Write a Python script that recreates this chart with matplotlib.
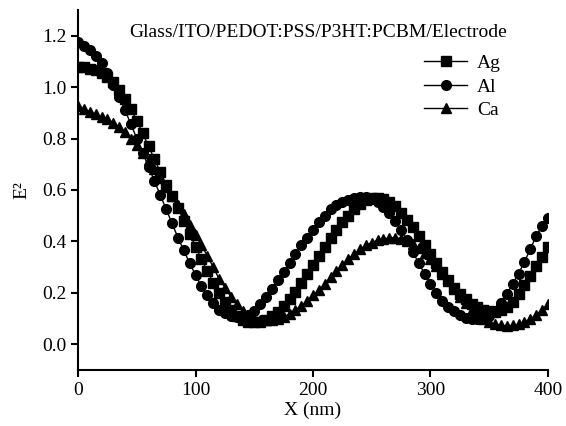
import numpy as np
import matplotlib
matplotlib.use('Agg')
import matplotlib.pyplot as plt

plt.rcParams['font.family'] = ['Liberation Serif', 'DejaVu Serif']

# x position (nm), step 5
x_nm = list(range(0, 405, 5))

# Ag electrode
e2_ag = [1.080, 1.077, 1.072, 1.065, 1.055, 1.040, 1.020, 0.990, 0.955, 0.915,
         0.870, 0.820, 0.770, 0.720, 0.670, 0.620, 0.575, 0.530, 0.480, 0.430,
         0.380, 0.330, 0.285, 0.240, 0.200, 0.165, 0.135, 0.110, 0.095, 0.087,
         0.085, 0.088, 0.095, 0.108, 0.125, 0.150, 0.175, 0.205, 0.240, 0.275,
         0.310, 0.345, 0.380, 0.415, 0.445, 0.475, 0.500, 0.525, 0.545, 0.560,
         0.567, 0.570, 0.566, 0.555, 0.537, 0.512, 0.485, 0.455, 0.420, 0.385,
         0.350, 0.315, 0.280, 0.250, 0.220, 0.195, 0.175, 0.158, 0.145, 0.135,
         0.128, 0.127, 0.132, 0.145, 0.165, 0.195, 0.230, 0.265, 0.305, 0.340,
         0.380]

# Al electrode
e2_al = [1.177, 1.160, 1.145, 1.120, 1.095, 1.055, 1.010, 0.960, 0.910, 0.855,
         0.800, 0.745, 0.690, 0.635, 0.580, 0.525, 0.470, 0.415, 0.365, 0.315,
         0.270, 0.225, 0.190, 0.160, 0.135, 0.120, 0.110, 0.105, 0.105, 0.115,
         0.130, 0.155, 0.185, 0.215, 0.250, 0.280, 0.315, 0.350, 0.385, 0.415,
         0.445, 0.475, 0.500, 0.525, 0.540, 0.553, 0.562, 0.568, 0.571, 0.571,
         0.566, 0.555, 0.535, 0.510, 0.480, 0.445, 0.405, 0.360, 0.315, 0.275,
         0.235, 0.200, 0.170, 0.145, 0.128, 0.113, 0.103, 0.097, 0.097, 0.100,
         0.110, 0.130, 0.160, 0.195, 0.235, 0.275, 0.320, 0.370, 0.420, 0.460,
         0.490]

# Ca electrode
e2_ca = [0.925, 0.915, 0.905, 0.895, 0.885, 0.875, 0.862, 0.845, 0.825, 0.800,
         0.775, 0.745, 0.715, 0.680, 0.645, 0.610, 0.575, 0.540, 0.505, 0.465,
         0.425, 0.385, 0.345, 0.300, 0.255, 0.220, 0.185, 0.155, 0.130, 0.112,
         0.100, 0.095, 0.093, 0.093, 0.097, 0.105, 0.118, 0.133, 0.150, 0.170,
         0.190, 0.210, 0.235, 0.260, 0.285, 0.310, 0.330, 0.350, 0.370, 0.385,
         0.395, 0.405, 0.410, 0.413, 0.415, 0.410, 0.400, 0.390, 0.375, 0.355,
         0.330, 0.305, 0.275, 0.245, 0.215, 0.185, 0.160, 0.135, 0.115, 0.098,
         0.087, 0.078, 0.073, 0.072, 0.073, 0.078, 0.087, 0.098, 0.113, 0.132,
         0.155]

fig = plt.figure(figsize=(5.66, 4.26), dpi=100)
ax = fig.add_axes([0.138, 0.1315, 0.83, 0.845])

ax.plot(x_nm, e2_ag, color='black', lw=1, marker='s', ms=7, label='Ag')
ax.plot(x_nm, e2_al, color='black', lw=1, marker='o', ms=7, label='Al')
ax.plot(x_nm, e2_ca, color='black', lw=1, marker='^', ms=7.5, label='Ca')

ax.set_xlim(0, 400)
ax.set_ylim(-0.1, 1.3)
ax.set_xticks([0, 100, 200, 300, 400])
ax.set_yticks(np.arange(0, 1.21, 0.2))
ax.set_yticklabels(['%.1f' % v for v in np.arange(0, 1.21, 0.2)])

for s in ['top', 'right']:
    ax.spines[s].set_visible(False)
for s in ['left', 'bottom']:
    ax.spines[s].set_linewidth(1.5)
ax.tick_params(direction='out', length=5, width=1.5, labelsize=14)

ax.set_xlabel('X (nm)', fontsize=14, labelpad=2)
ax.set_ylabel('E²', fontsize=14, labelpad=8)

ax.text(0.51, 0.96, 'Glass/ITO/PEDOT:PSS/P3HT:PCBM/Electrode', transform=ax.transAxes,
        ha='center', va='top', fontsize=14)

ax.legend(loc='upper left', bbox_to_anchor=(0.7, 0.925), frameon=False, fontsize=14,
          handlelength=2.2, labelspacing=0.3, handletextpad=0.5)

fig.savefig('out.png', dpi=100)
